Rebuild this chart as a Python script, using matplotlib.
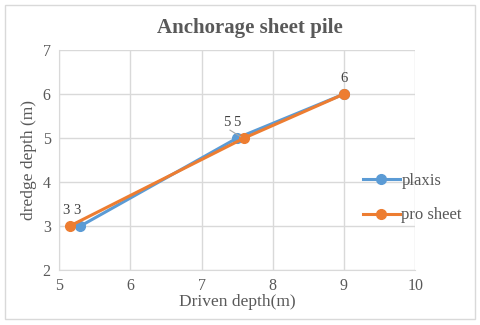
import matplotlib.pyplot as plt
from matplotlib.patches import Rectangle

# data
plaxis_x = [5.3, 7.5, 9.0]
plaxis_y = [3, 5, 6]
prosheet_x = [5.15, 7.6, 9.0]
prosheet_y = [3, 5, 6]

plt.rcParams['font.family'] = ['Liberation Serif', 'DejaVu Serif']

fig = plt.figure(figsize=(4.8, 3.25), dpi=100)
ax = fig.add_axes([0.123, 0.169, 0.742, 0.677])

blue = '#5b9bd5'
orange = '#ed7d31'
txt = '#595959'
grid = '#d9d9d9'

ax.plot(plaxis_x, plaxis_y, color=blue, lw=2.2, marker='o', ms=7, label='plaxis')
ax.plot(prosheet_x, prosheet_y, color=orange, lw=2.2, marker='o', ms=7, label='pro sheet')

# data labels
ax.text(5.1, 3.2, '3', fontsize=10.5, color='#404040', ha='center', va='bottom')
ax.text(5.25, 3.2, '3', fontsize=10.5, color='#404040', ha='center', va='bottom')
ax.text(7.35, 5.2, '5', fontsize=10.5, color='#404040', ha='center', va='bottom')
ax.text(7.5, 5.2, '5', fontsize=10.5, color='#404040', ha='center', va='bottom')
ax.plot([7.4, 7.55], [5.18, 5.03], color='#a6a6a6', lw=0.8)
ax.text(9.0, 6.2, '6', fontsize=10.5, color='#404040', ha='center', va='bottom')

ax.set_xlim(5, 10)
ax.set_ylim(2, 7)
ax.set_xticks(range(5, 11))
ax.set_yticks(range(2, 8))
ax.grid(True, color=grid, lw=1)
ax.set_axisbelow(True)
for s in ['top', 'right']:
    ax.spines[s].set_visible(False)
for s in ['left', 'bottom']:
    ax.spines[s].set_color(grid)
ax.tick_params(length=0, labelsize=11.5, colors=txt, pad=6)

ax.set_xlabel('Driven depth(m)', fontsize=12.5, color=txt, labelpad=0)
ax.set_ylabel('dredge depth (m)', fontsize=12.5, color=txt, labelpad=4)
fig.text(0.52, 0.915, 'Anchorage sheet pile', ha='center', va='center',
         fontsize=15, fontweight='bold', color=txt)

fig.legend(loc='center left', bbox_to_anchor=(0.725, 0.39), frameon=False,
           fontsize=12, labelcolor=txt, handlelength=2.2, handletextpad=0.1,
           labelspacing=1.1)

fig.patches.append(Rectangle((0.01, 0.02), 0.98, 0.965, transform=fig.transFigure,
                             fill=False, edgecolor=grid, lw=1))

fig.savefig('out.png', dpi=100)
